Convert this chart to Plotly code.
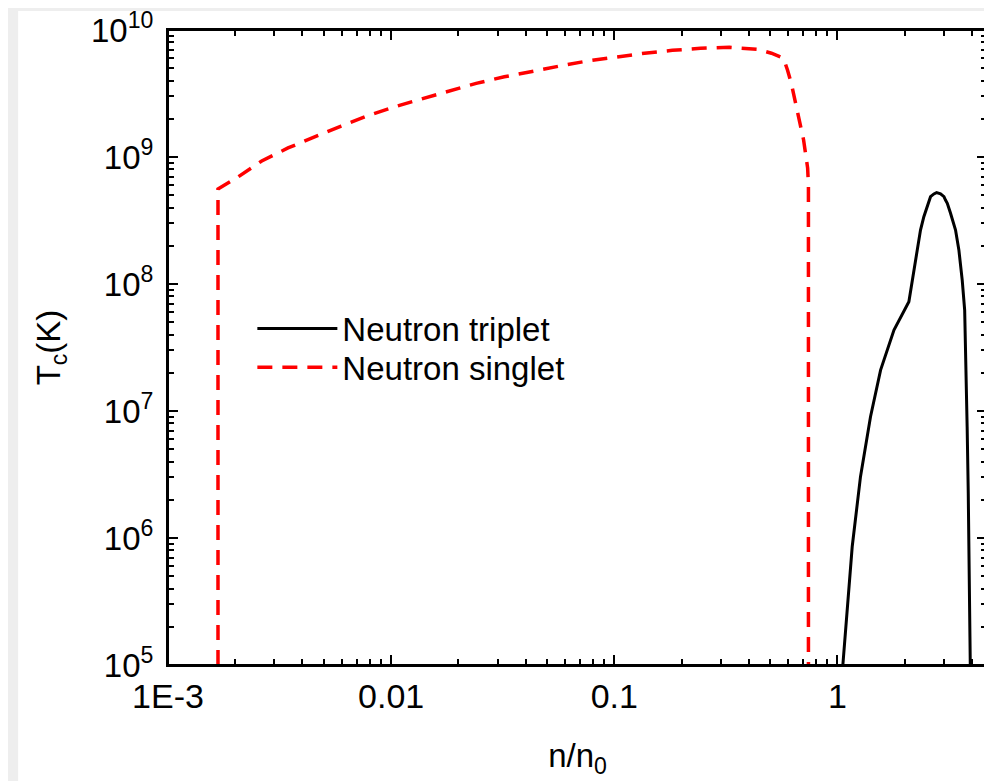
import plotly.graph_objects as go

# ---- data ----
singlet_n = [0.001675, 0.001675, 0.00206, 0.00263, 0.00345, 0.00452, 0.00597, 0.00780,
             0.01030, 0.01365, 0.01803, 0.02404, 0.03214, 0.04285, 0.05728, 0.07568,
             0.1021, 0.1365, 0.1820, 0.2432, 0.3281, 0.3828, 0.4375, 0.5058, 0.5728,
             0.597, 0.622, 0.662, 0.705, 0.735, 0.741, 0.741]
singlet_tc = [1e5, 5.6e8, 6.97e8, 9.31e8, 1.178e9, 1.436e9, 1.754e9, 2.104e9,
              2.477e9, 2.864e9, 3.311e9, 3.80e9, 4.28e9, 4.753e9, 5.212e9, 5.702e9,
              6.166e9, 6.561e9, 6.918e9, 7.178e9, 7.311e9, 7.211e9, 7.047e9, 6.561e9, 5.984e9,
              4.842e9, 3.758e9, 2.259e9, 1.361e9, 8.18e8, 6.03e8, 1e5]

triplet_n = [1.057, 1.104, 1.164, 1.268, 1.406, 1.560, 1.791, 2.089, 2.275, 2.355, 2.438,
             2.564, 2.612, 2.704, 2.780, 2.897, 3.000, 3.048, 3.105, 3.211, 3.381, 3.499,
             3.565, 3.622, 3.715, 3.776, 3.811, 3.855, 3.891, 3.936]
triplet_tc = [1e5, 2.71e5, 8.53e5, 3.04e6, 9.02e6, 2.10e7, 4.345e7, 7.26e7, 1.854e8, 2.66e8, 3.39e8,
              4.45e8, 4.87e8, 5.12e8, 5.24e8, 5.12e8, 4.87e8, 4.58e8, 4.315e8, 3.61e8, 2.66e8, 1.854e8,
              1.455e8, 1.074e8, 6.24e7, 2.10e7, 7.52e6, 2.25e6, 4.95e5, 1e5]

x_tickvals = [0.001, 0.01, 0.1, 1]
x_ticktext = ["1E-3", "0.01", "0.1", "1"]
y_tickvals = [1e5, 1e6, 1e7, 1e8, 1e9, 1e10]
y_ticktext = ["10<sup>5</sup>", "10<sup>6</sup>", "10<sup>7</sup>", "10<sup>8</sup>",
              "10<sup>9</sup>", "10<sup>10</sup>"]

# minor tick positions (2..9 within each decade)
x_minor = [m * 10.0 ** k for k in range(-3, 1) for m in range(2, 10)]
y_minor = [m * 10.0 ** k for k in range(5, 10) for m in range(2, 10)]

X_RANGE = [-3, 0.670]
Y_RANGE = [5, 10]

FONT = "Liberation Sans, Arial, sans-serif"
FS = 33

fig = go.Figure()
fig.add_trace(go.Scatter(x=triplet_n, y=triplet_tc, mode="lines", name="Neutron triplet",
                         line=dict(color="black", width=3), legend="legend"))
fig.add_trace(go.Scatter(x=singlet_n, y=singlet_tc, mode="lines", name="Neutron singlet",
                         line=dict(color="#ff0000", width=3.5, dash="15px,10px"), legend="legend2"))
# invisible copy on the top axis so that the mirrored top tick axis is drawn
fig.add_trace(go.Scatter(x=triplet_n, y=triplet_tc, mode="lines", xaxis="x2", yaxis="y",
                         opacity=0, showlegend=False, hoverinfo="skip",
                         line=dict(color="black", width=1)))

tick_style = dict(
    showline=True, linecolor="black", linewidth=2,
    ticks="inside", ticklen=10, tickwidth=2, tickcolor="black",
    showgrid=False, zeroline=False, automargin=False, ticklabeloverflow="allow",
)
x_minor_style = dict(tickmode="array", tickvals=x_minor, ticks="inside", ticklen=6,
                     tickwidth=2, tickcolor="black", showgrid=False)

fig.update_layout(
    xaxis=dict(type="log", range=X_RANGE, tickmode="array",
               tickvals=x_tickvals, ticktext=x_ticktext, mirror=False,
               tickfont=dict(family=FONT, size=34, color="black"),
               minor=x_minor_style,
               title=dict(text="n/n<sub>0</sub>", font=dict(family=FONT, size=FS, color="black"),
                          standoff=30),
               **tick_style),
    xaxis2=dict(type="log", range=X_RANGE, tickmode="array", tickvals=x_tickvals,
                showticklabels=False, overlaying="x", side="top", anchor="y",
                minor=x_minor_style, **tick_style),
    yaxis=dict(type="log", range=Y_RANGE, tickmode="array",
               tickvals=y_tickvals, ticktext=y_ticktext, ticklabelstandoff=6, mirror="ticks",
               tickfont=dict(family=FONT, size=FS, color="black"),
               minor=dict(tickmode="array", tickvals=y_minor, ticks="inside", ticklen=6,
                          tickwidth=2, tickcolor="black", showgrid=False),
               title=dict(text="T<sub>c</sub>(K)", font=dict(family=FONT, size=FS, color="black"),
                          standoff=20),
               **tick_style),
)

leg_common = dict(xanchor="left", yanchor="middle", bgcolor="rgba(0,0,0,0)",
                  font=dict(family=FONT, size=FS, color="black"), itemwidth=80)

fig.update_layout(
    width=992, height=781,
    margin=dict(l=160, r=13, t=22, b=124),
    paper_bgcolor="#eeeeee", plot_bgcolor="white",
    font=dict(family=FONT, color="black"),
    showlegend=True,
    legend=dict(x=0.103, y=0.530, **leg_common),
    legend2=dict(x=0.103, y=0.469, **leg_common),
    shapes=[dict(type="rect", xref="paper", yref="paper", layer="below",
                 x0=-0.183, x1=1.02, y0=-0.25, y1=1.03,
                 fillcolor="white", line=dict(width=0)),
            # plot frame
            dict(type="rect", xref="paper", yref="paper", layer="above",
                 x0=0, x1=1, y0=0, y1=1, fillcolor="rgba(0,0,0,0)",
                 line=dict(color="black", width=2))],
)

fig.write_html("out.html")
